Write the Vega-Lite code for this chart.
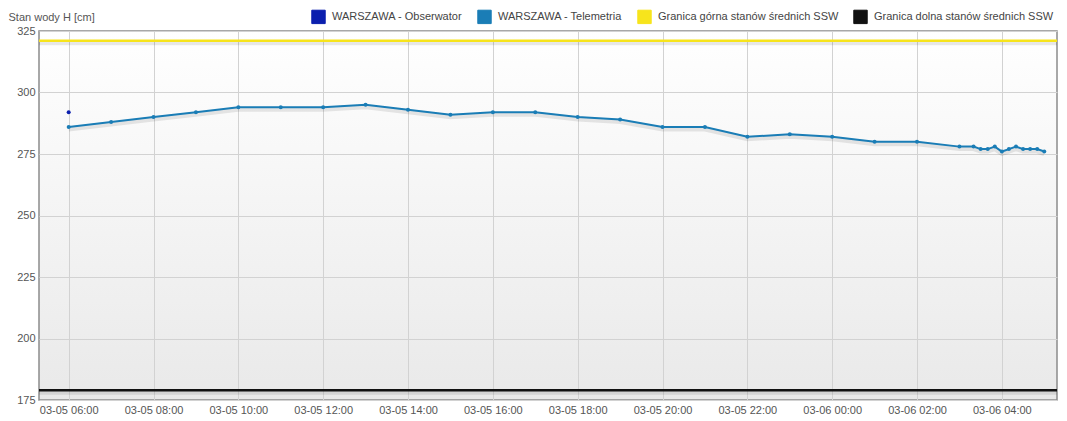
{
  "$schema": "https://vega.github.io/schema/vega-lite/v6.json",
  "width": 1018,
  "height": 369,
  "autosize": {"type": "none"},
  "padding": {"left": 39, "top": 31, "right": 10, "bottom": 21},
  "background": "#ffffff",
  "config": {
    "view": {
      "stroke": "#8c8c8c",
      "strokeWidth": 1.5,
      "fill": {"gradient": "linear", "x1": 0, "y1": 0, "x2": 0, "y2": 1, "stops": [{"offset": 0, "color": "#ffffff"}, {"offset": 1, "color": "#e9e9e9"}]}
    },
    "axis": {
      "labelFont": "Liberation Sans",
      "labelFontSize": 11,
      "labelColor": "#555555",
      "gridColor": "#d2d2d2",
      "domain": false,
      "ticks": false
    }
  },
  "data": {
    "values": [
      {"t": "2024-03-05T06:00:00", "v": 292, "s": "WARSZAWA - Obserwator"},
      {"t": "2024-03-05T06:00:00", "v": 286, "s": "WARSZAWA - Telemetria"},
      {"t": "2024-03-05T07:00:00", "v": 288, "s": "WARSZAWA - Telemetria"},
      {"t": "2024-03-05T08:00:00", "v": 290, "s": "WARSZAWA - Telemetria"},
      {"t": "2024-03-05T09:00:00", "v": 292, "s": "WARSZAWA - Telemetria"},
      {"t": "2024-03-05T10:00:00", "v": 294, "s": "WARSZAWA - Telemetria"},
      {"t": "2024-03-05T11:00:00", "v": 294, "s": "WARSZAWA - Telemetria"},
      {"t": "2024-03-05T12:00:00", "v": 294, "s": "WARSZAWA - Telemetria"},
      {"t": "2024-03-05T13:00:00", "v": 295, "s": "WARSZAWA - Telemetria"},
      {"t": "2024-03-05T14:00:00", "v": 293, "s": "WARSZAWA - Telemetria"},
      {"t": "2024-03-05T15:00:00", "v": 291, "s": "WARSZAWA - Telemetria"},
      {"t": "2024-03-05T16:00:00", "v": 292, "s": "WARSZAWA - Telemetria"},
      {"t": "2024-03-05T17:00:00", "v": 292, "s": "WARSZAWA - Telemetria"},
      {"t": "2024-03-05T18:00:00", "v": 290, "s": "WARSZAWA - Telemetria"},
      {"t": "2024-03-05T19:00:00", "v": 289, "s": "WARSZAWA - Telemetria"},
      {"t": "2024-03-05T20:00:00", "v": 286, "s": "WARSZAWA - Telemetria"},
      {"t": "2024-03-05T21:00:00", "v": 286, "s": "WARSZAWA - Telemetria"},
      {"t": "2024-03-05T22:00:00", "v": 282, "s": "WARSZAWA - Telemetria"},
      {"t": "2024-03-05T23:00:00", "v": 283, "s": "WARSZAWA - Telemetria"},
      {"t": "2024-03-06T00:00:00", "v": 282, "s": "WARSZAWA - Telemetria"},
      {"t": "2024-03-06T01:00:00", "v": 280, "s": "WARSZAWA - Telemetria"},
      {"t": "2024-03-06T02:00:00", "v": 280, "s": "WARSZAWA - Telemetria"},
      {"t": "2024-03-06T03:00:00", "v": 278, "s": "WARSZAWA - Telemetria"},
      {"t": "2024-03-06T03:20:00", "v": 278, "s": "WARSZAWA - Telemetria"},
      {"t": "2024-03-06T03:30:00", "v": 277, "s": "WARSZAWA - Telemetria"},
      {"t": "2024-03-06T03:40:00", "v": 277, "s": "WARSZAWA - Telemetria"},
      {"t": "2024-03-06T03:50:00", "v": 278, "s": "WARSZAWA - Telemetria"},
      {"t": "2024-03-06T04:00:00", "v": 276, "s": "WARSZAWA - Telemetria"},
      {"t": "2024-03-06T04:10:00", "v": 277, "s": "WARSZAWA - Telemetria"},
      {"t": "2024-03-06T04:20:00", "v": 278, "s": "WARSZAWA - Telemetria"},
      {"t": "2024-03-06T04:30:00", "v": 277, "s": "WARSZAWA - Telemetria"},
      {"t": "2024-03-06T04:40:00", "v": 277, "s": "WARSZAWA - Telemetria"},
      {"t": "2024-03-06T04:50:00", "v": 277, "s": "WARSZAWA - Telemetria"},
      {"t": "2024-03-06T05:00:00", "v": 276, "s": "WARSZAWA - Telemetria"},
      {"t": "2024-03-05T05:18:00", "v": 321, "s": "Granica górna stanów średnich SSW"},
      {"t": "2024-03-06T05:18:00", "v": 321, "s": "Granica górna stanów średnich SSW"},
      {"t": "2024-03-05T05:18:00", "v": 179, "s": "Granica dolna stanów średnich SSW"},
      {"t": "2024-03-06T05:18:00", "v": 179, "s": "Granica dolna stanów średnich SSW"}
    ]
  },
  "encoding": {
    "x": {
      "field": "t",
      "type": "temporal",
      "scale": {"domain": [{"year": 2024, "month": 3, "date": 5, "hours": 5, "minutes": 18}, {"year": 2024, "month": 3, "date": 6, "hours": 5, "minutes": 18}], "nice": false},
      "axis": {
        "title": null,
        "format": "%m-%d %H:%M",
        "values": [
          {"year": 2024, "month": 3, "date": 5, "hours": 6},
          {"year": 2024, "month": 3, "date": 5, "hours": 8},
          {"year": 2024, "month": 3, "date": 5, "hours": 10},
          {"year": 2024, "month": 3, "date": 5, "hours": 12},
          {"year": 2024, "month": 3, "date": 5, "hours": 14},
          {"year": 2024, "month": 3, "date": 5, "hours": 16},
          {"year": 2024, "month": 3, "date": 5, "hours": 18},
          {"year": 2024, "month": 3, "date": 5, "hours": 20},
          {"year": 2024, "month": 3, "date": 5, "hours": 22},
          {"year": 2024, "month": 3, "date": 6, "hours": 0},
          {"year": 2024, "month": 3, "date": 6, "hours": 2},
          {"year": 2024, "month": 3, "date": 6, "hours": 4}
        ],
        "labelPadding": 4
      }
    },
    "y": {
      "field": "v",
      "type": "quantitative",
      "scale": {"domain": [175, 325], "nice": false, "zero": false},
      "axis": {
        "values": [175, 200, 225, 250, 275, 300, 325],
        "labelPadding": 4,
        "title": "Stan wody H [cm]",
        "titleAngle": 0,
        "titleAlign": "left",
        "titleBaseline": "middle",
        "titleX": -31,
        "titleY": -14,
        "titleFont": "Liberation Sans",
        "titleFontSize": 11,
        "titleFontWeight": "normal",
        "titleColor": "#555555"
      }
    }
  },
  "layer": [
    {
      "transform": [{"filter": "datum.s != 'WARSZAWA - Obserwator'"}],
      "mark": {"type": "line", "stroke": "#000000", "strokeOpacity": 0.09, "strokeWidth": 5, "yOffset": 2},
      "encoding": {"detail": {"field": "s", "type": "nominal"}}
    },
    {
      "transform": [{"filter": "datum.s != 'WARSZAWA - Obserwator' && datum.s != 'WARSZAWA - Telemetria'"}],
      "mark": {"type": "line", "strokeWidth": 2.5},
      "encoding": {
        "color": {
          "field": "s",
          "type": "nominal",
          "scale": {
            "domain": ["WARSZAWA - Obserwator", "WARSZAWA - Telemetria", "Granica górna stanów średnich SSW", "Granica dolna stanów średnich SSW"],
            "range": ["#0b1fae", "#1a7db6", "#f7e41c", "#111111"]
          },
          "legend": {
            "title": null,
            "orient": "none",
            "direction": "horizontal",
            "legendX": 272,
            "legendY": -22,
            "symbolType": "square",
            "symbolSize": 180,
            "symbolStrokeColor": "#bbbbbb",
            "symbolStrokeWidth": 1,
            "labelFont": "Liberation Sans",
            "labelFontSize": 11,
            "labelColor": "#444444",
            "labelLimit": 0,
            "labelOffset": 6,
            "columnPadding": 12
          }
        }
      }
    },
    {
      "transform": [{"filter": "datum.s == 'WARSZAWA - Telemetria'"}],
      "mark": {"type": "line", "strokeWidth": 2},
      "encoding": {"color": {"field": "s", "type": "nominal"}}
    },
    {
      "transform": [{"filter": "datum.s == 'WARSZAWA - Obserwator' || datum.s == 'WARSZAWA - Telemetria'"}],
      "mark": {"type": "circle", "size": 16, "opacity": 1},
      "encoding": {"color": {"field": "s", "type": "nominal"}}
    }
  ]
}
